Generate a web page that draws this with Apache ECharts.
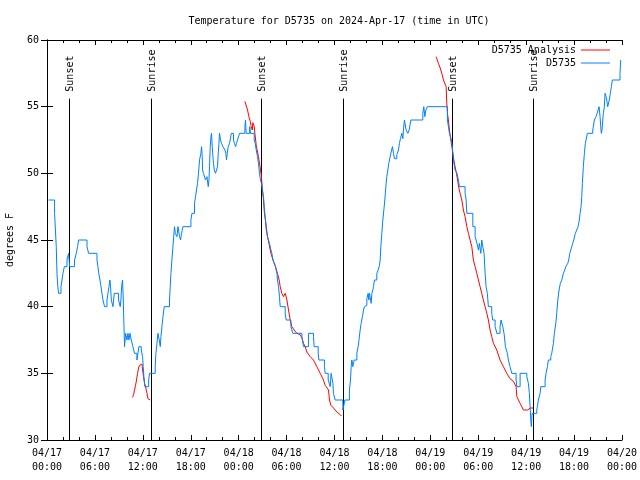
<!DOCTYPE html>
<html>
<head>
<meta charset="utf-8">
<script src="https://cdn.jsdelivr.net/npm/echarts@6/dist/echarts.min.js"></script>
<style>html,body{margin:0;padding:0;background:#fff;}#c{width:640px;height:480px;}</style>
</head>
<body>
<div id="c"></div>
<script>
// Hours since 2024-04-17 00:00 UTC
var xTickLabels = ['04/17\n00:00','04/17\n06:00','04/17\n12:00','04/17\n18:00','04/18\n00:00','04/18\n06:00','04/18\n12:00','04/18\n18:00','04/19\n00:00','04/19\n06:00','04/19\n12:00','04/19\n18:00','04/20\n00:00'];
var sunTimes = [2.70, 12.97, 26.76, 37.02, 50.76, 60.90];
var sunLabels = ['Sunset','Sunrise','Sunset','Sunrise','Sunset','Sunrise'];

// D5735 observations (value holds from time until next point)
var obs = [[0.20,48],[0.95,47],[1.16,44.5],[1.25,42.5],[1.35,41.5],[1.45,41],[1.75,41.5],[1.88,42],[2.00,42.5],[2.17,43],[2.50,43.5],[2.70,44],[2.83,43],[3.45,43.5],[3.67,44],[3.83,44.5],[3.95,45],[5.01,44.5],[5.21,44],[6.26,43.5],[6.38,43],[6.48,42.5],[6.63,42],[6.76,41.5],[6.88,41],[7.01,40.5],[7.21,40],[7.51,40.5],[7.63,41],[7.76,41.5],[7.88,42],[7.96,41.5],[8.05,40.5],[8.26,40],[8.34,40.5],[8.42,41],[8.96,40.5],[9.17,40],[9.26,40.5],[9.34,41.5],[9.46,42],[9.55,40.5],[9.64,38.5],[9.71,37],[9.84,38],[10.01,37.5],[10.14,38],[10.26,37.5],[10.39,38],[10.55,37.5],[10.76,37],[10.96,36.5],[11.26,36],[11.39,36.5],[11.51,37],[11.80,36.75],[11.97,36.25],[12.05,35.5],[12.13,34.75],[12.25,34],[12.73,34.5],[12.84,35],[13.55,35.5],[13.64,36.5],[13.77,37.25],[13.89,38],[14.06,37.5],[14.18,37],[14.27,37.75],[14.39,38.5],[14.52,39.25],[14.68,40],[15.34,40.5],[15.43,41.5],[15.52,42.5],[15.64,43.5],[15.77,44.5],[15.90,45.5],[15.97,46],[16.06,45.5],[16.27,45.25],[16.40,46],[16.60,45.25],[16.72,45],[16.85,45.5],[17.02,46],[18.02,46.5],[18.15,47],[18.47,47.75],[18.60,48.25],[18.72,48.75],[18.85,49.25],[18.97,50],[19.10,51],[19.27,51.5],[19.35,52],[19.44,51.25],[19.48,50.25],[19.60,50],[19.85,49.5],[20.03,49.75],[20.19,49],[20.28,49.5],[20.35,50.5],[20.44,52],[20.53,52.75],[20.60,53],[20.69,52],[20.78,51.25],[20.85,50.75],[20.94,50.25],[21.10,50],[21.35,50.5],[21.44,51.5],[21.53,52.25],[21.60,53],[21.73,52.5],[21.85,52.25],[22.03,52],[22.28,51.75],[22.40,51.5],[22.48,51],[22.57,51.5],[22.69,52],[22.85,52.25],[22.94,52.5],[23.07,53],[23.35,52.5],[23.48,52.25],[23.61,52],[23.73,52.25],[23.86,52.5],[24.11,53],[24.78,53.5],[24.86,54],[24.94,53],[25.38,53.5],[25.48,53],[25.95,52.5],[26.07,52.25],[26.20,51.75],[26.36,51.25],[26.48,50.75],[26.61,50],[26.73,49.5],[26.86,49.25],[26.95,48.75],[27.11,48.25],[27.20,47.5],[27.32,46.75],[27.45,45.75],[27.61,45.25],[27.74,45],[27.86,44.75],[28.04,44.25],[28.16,44],[28.29,43.5],[28.45,43.25],[28.61,43],[28.79,42.5],[28.86,42],[28.99,41.5],[29.11,40.75],[29.20,40],[29.83,39.5],[29.95,39],[30.54,38.5],[30.66,38.25],[30.79,38],[31.92,37.75],[32.04,37.25],[32.12,37],[32.74,38],[33.37,37.75],[33.45,37],[33.96,36.5],[34.04,36],[34.74,35.5],[34.83,35],[35.21,34.5],[35.46,34],[35.58,35],[35.80,34.25],[35.87,33.5],[36.08,33],[37.05,32.25],[37.30,33],[37.87,33.75],[38.00,34.5],[38.09,35.5],[38.17,36],[38.29,35.5],[38.46,36],[38.80,36.5],[38.96,37],[39.09,37.6],[39.21,38.25],[39.34,38.75],[39.50,39.25],[39.63,39.75],[39.75,40],[39.88,40.1],[40.05,40.6],[40.21,41],[40.30,40.5],[40.38,41],[40.59,40.25],[40.68,41],[40.80,41.25],[40.88,41.5],[41.00,42],[41.30,42.5],[41.47,42.75],[41.63,43.1],[41.72,43.5],[41.80,44.5],[41.93,45.5],[42.05,46.5],[42.18,47.25],[42.30,48],[42.43,49],[42.55,49.75],[42.68,50.25],[42.80,50.75],[42.97,51.25],[43.09,51.6],[43.26,52],[43.38,51.5],[43.51,51.1],[43.80,51.4],[44.01,51.75],[44.13,52.25],[44.26,52.6],[44.43,53],[44.56,52.6],[44.63,53.25],[44.76,54],[44.97,53.25],[45.18,53],[45.35,53.25],[45.56,54],[47.06,54.5],[47.18,55],[47.31,54.25],[47.44,54.75],[47.64,55],[50.14,54],[50.39,53],[50.64,52.5],[50.76,52],[50.89,51],[51.10,50.25],[51.35,50],[51.51,49.5],[51.64,49],[52.35,48.5],[52.48,48],[52.57,47],[53.32,46],[53.61,45.25],[53.73,45],[53.94,44.5],[54.02,44.25],[54.14,44.75],[54.32,44],[54.44,45],[54.57,44.5],[54.73,44],[54.86,42.5],[54.98,41.5],[55.14,41],[55.27,40],[55.69,39.5],[55.82,39],[56.11,38.5],[56.23,38.25],[56.32,38],[56.73,38.5],[56.86,39],[57.07,38.5],[57.23,38],[57.40,37],[57.65,36.5],[57.77,36],[57.98,35.5],[58.20,35],[58.74,34.5],[58.83,34],[59.24,35],[60.08,34.75],[60.28,34.25],[60.40,33.5],[60.49,32.5],[60.58,31.5],[60.65,31],[60.74,32],[61.33,32.25],[61.40,32.5],[61.53,33],[61.74,33.5],[61.83,34],[62.37,34.5],[62.49,35],[62.66,35.5],[62.78,36],[63.08,36.25],[63.20,36.5],[63.41,37.25],[63.53,38],[63.71,38.75],[63.83,39.5],[63.96,40.5],[64.12,41.25],[64.28,41.75],[64.46,42],[64.66,42.5],[64.83,42.75],[64.96,43],[65.21,43.25],[65.33,43.5],[65.46,44],[65.71,44.5],[65.83,44.75],[65.96,45],[66.16,45.5],[66.33,45.75],[66.50,46],[66.66,46.5],[66.75,47],[66.87,47.5],[66.96,48.25],[67.04,49.25],[67.16,50.5],[67.29,51.5],[67.41,52.25],[67.50,52.5],[67.66,53],[68.34,53.25],[68.41,53.5],[68.54,54],[68.75,54.25],[68.88,54.5],[69.00,54.75],[69.13,55],[69.25,54.25],[69.34,53.5],[69.41,53],[69.50,53.25],[69.59,54],[69.66,54.5],[69.79,55],[69.88,56],[70.00,55.75],[70.09,55.5],[70.21,55],[70.41,55.5],[70.54,56],[70.67,56.5],[70.79,57],[71.75,57.5],[71.84,58.5],[71.88,58.5]];

// D5735 Analysis (three separate segments, null = gap)
var analysis = [[10.71,33.2],[10.84,33.4],[10.96,33.75],[11.09,34.1],[11.21,34.5],[11.34,35],[11.46,35.4],[11.59,35.6],[11.68,35.7],[11.89,35.7],[11.97,35.25],[12.09,34.75],[12.22,34.25],[12.34,34],[12.52,33.5],[12.64,33.1],[12.72,33],[12.93,33],
[null,null],
[24.78,55.4],[24.94,55.25],[25.11,54.75],[25.28,54.25],[25.45,53.9],[25.57,53.5],[25.70,53.25],[25.78,53.8],[25.86,53.9],[25.95,53.5],[26.03,53],[26.20,52.1],[26.28,52],[26.48,51.25],[26.70,50.4],[26.82,49.9],[26.95,49],[27.11,48],[27.23,47],[27.41,46.25],[27.61,45.25],[27.79,44.75],[28.04,44],[28.36,43.4],[28.61,43],[28.86,42.5],[29.07,42],[29.20,41.5],[29.41,41],[29.61,40.75],[29.83,41],[30.04,40.5],[30.24,39.75],[30.45,39],[30.66,38.5],[30.95,38.25],[31.29,38],[31.70,37.9],[31.95,37.6],[32.12,37.25],[32.33,37],[32.54,36.6],[32.96,36.25],[33.37,36],[33.79,35.5],[34.21,35],[34.62,34.5],[34.83,34.1],[35.05,34.25],[35.25,33.75],[35.37,33],[35.55,32.6],[35.87,32.4],[36.30,32.1],[36.71,31.9],[36.87,31.8],
[null,null],
[48.72,58.75],[49.01,58.25],[49.23,57.9],[49.44,57.5],[49.64,57],[49.85,56.9],[49.98,56.5],[50.06,55.25],[50.14,54.5],[50.26,54],[50.39,53.25],[50.57,52.5],[50.69,52],[50.82,51.5],[50.94,51],[51.10,50.5],[51.27,50],[51.44,49.4],[51.57,48.9],[51.73,48.5],[51.94,48],[52.14,47.25],[52.35,46.75],[52.57,46],[52.77,45.5],[52.98,45],[53.19,44.5],[53.39,43.5],[53.61,43],[53.82,42.5],[54.02,42],[54.23,41.5],[54.44,41],[54.64,40.5],[54.86,40],[55.07,39.5],[55.27,39],[55.48,38.25],[55.69,37.75],[55.90,37.25],[56.32,36.75],[56.73,36],[57.15,35.5],[57.57,35],[57.98,34.6],[58.40,34.4],[58.74,34],[58.83,33.25],[59.24,32.75],[59.66,32.25],[59.87,32.1],[60.20,32.25],[60.49,32.4],[60.91,32.4]];

var FONT = 'DejaVu Sans Mono';
var chart = echarts.init(document.getElementById('c'));
var sunLineTop = 55.6;

var tickCommon = { inside: true, length: 5, lineStyle: { color: '#000' } };
var minorCommon = { show: true, splitNumber: 3, length: 3, lineStyle: { color: '#000' } };

chart.setOption({
  animation: false,
  backgroundColor: '#fff',
  title: {
    text: 'Temperature for D5735 on 2024-Apr-17 (time in UTC)',
    left: 334, top: 11, textAlign: 'center',
    textStyle: { fontFamily: FONT, fontSize: 10, fontWeight: 'normal', color: '#000' }
  },
  legend: {
    orient: 'vertical', right: 25, top: 39, align: 'right', itemGap: 1,
    itemWidth: 29, itemHeight: 1, icon: 'rect', itemGap: 1,
    data: ['D5735 Analysis', 'D5735'],
    textStyle: { fontFamily: FONT, fontSize: 10, color: '#000', lineHeight: 12 }
  },
  grid: { left: 47, right: 18, top: 40, bottom: 40, containLabel: false, outerBoundsMode: 'none' },
  xAxis: [{
    type: 'value', min: 0, max: 72, interval: 6,
    axisLine: { lineStyle: { color: '#000', width: 1 } },
    axisTick: tickCommon, minorTick: minorCommon,
    splitLine: { show: false },
    axisLabel: { margin: 6, fontFamily: FONT, fontSize: 10, color: '#000', lineHeight: 14,
      formatter: function (v) { return xTickLabels[Math.round(v / 6)]; } }
  }, {
    type: 'value', min: 0, max: 72, interval: 6, position: 'top',
    axisLine: { lineStyle: { color: '#000', width: 1 } },
    axisTick: tickCommon, minorTick: minorCommon,
    splitLine: { show: false }, axisLabel: { show: false }
  }],
  yAxis: [{
    type: 'value', min: 30, max: 60, interval: 5,
    name: 'degrees F', nameLocation: 'middle', nameGap: 32, nameRotate: 90,
    nameTextStyle: { fontFamily: FONT, fontSize: 10, color: '#000' },
    axisLine: { show: true, lineStyle: { color: '#000', width: 1 } },
    axisTick: { show: true, inside: true, length: 6, lineStyle: { color: '#000' } },
    splitLine: { show: false },
    axisLabel: { margin: 8, fontFamily: FONT, fontSize: 10, color: '#000' }
  }, {
    type: 'value', min: 30, max: 60, interval: 5, position: 'right',
    axisLine: { show: true, lineStyle: { color: '#000', width: 1 } },
    axisTick: { show: true, inside: true, length: 6, lineStyle: { color: '#000' } },
    splitLine: { show: false }, axisLabel: { show: false }
  }],
  series: [{
    type: 'custom', name: 'sun', xAxisIndex: 0, yAxisIndex: 0, silent: true, z: 1,
    data: sunTimes.map(function (t, i) { return [t, i]; }),
    renderItem: function (params, api) {
      var t = api.value(0);
      var idx = api.value(1);
      var p1 = api.coord([t, sunLineTop]);
      var p2 = api.coord([t, 30]);
      return {
        type: 'group',
        children: [{
          type: 'line',
          shape: { x1: Math.round(p1[0]) + 0.5, y1: p1[1], x2: Math.round(p2[0]) + 0.5, y2: p2[1] },
          style: { stroke: '#000', lineWidth: 1 }
        }, {
          type: 'text',
          x: Math.round(p1[0]) + 1.5, y: p1[1] - 7,
          rotation: Math.PI / 2,
          style: { text: sunLabels[idx], font: '10px ' + FONT, fill: '#000',
            textAlign: 'left', textVerticalAlign: 'middle' }
        }]
      };
    }
  }, {
    type: 'line', name: 'D5735 Analysis', data: analysis, symbol: 'none',
    connectNulls: false, z: 2,
    lineStyle: { color: '#ff0000', width: 1 }, itemStyle: { color: '#ff0000' }
  }, {
    type: 'line', name: 'D5735', data: obs, symbol: 'none', step: 'end', z: 3,
    lineStyle: { color: '#0080ff', width: 1 }, itemStyle: { color: '#0080ff' }
  }]
});
</script>
</body>
</html>
